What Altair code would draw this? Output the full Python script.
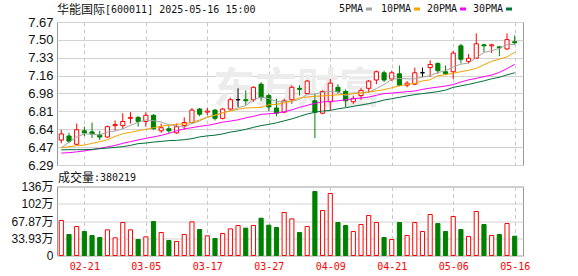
import json
import altair as alt
import pandas as pd

# ---------------- data ----------------
dates = ["02-18", "02-19", "02-20", "02-21", "02-24", "02-25", "02-26", "02-27", "02-28",
         "03-03", "03-04", "03-05", "03-06", "03-07", "03-10", "03-11", "03-12", "03-13",
         "03-14", "03-17", "03-18", "03-19", "03-20", "03-21", "03-24", "03-25", "03-26",
         "03-27", "03-28", "03-31", "04-01", "04-02", "04-03", "04-07", "04-08", "04-09",
         "04-10", "04-11", "04-14", "04-15", "04-16", "04-17", "04-18", "04-21", "04-22",
         "04-23", "04-24", "04-25", "04-28", "04-29", "04-30", "05-06", "05-07", "05-08",
         "05-09", "05-12", "05-13", "05-14", "05-15", "05-16"]

opens = [6.53, 6.57, 6.49, 6.62, 6.61, 6.58, 6.56, 6.67, 6.67, 6.74,
         6.75, 6.71, 6.77, 6.62, 6.64, 6.60, 6.67, 6.70, 6.83, 6.80,
         6.82, 6.74, 6.83, 6.92, 6.92, 6.92, 7.07, 6.96, 6.84, 6.80,
         6.92, 7.03, 6.98, 6.91, 6.79, 6.90, 7.04, 7.00, 6.90, 6.96,
         7.03, 7.11, 7.18, 7.12, 7.17, 7.06, 7.07, 7.18, 7.23, 7.27,
         7.19, 7.19, 7.44, 7.29, 7.32, 7.45, 7.44, 7.43, 7.41, 7.48]
highs = [6.63, 6.60, 6.69, 6.66, 6.70, 6.62, 6.67, 6.72, 6.79, 6.80,
         6.76, 6.80, 6.78, 6.69, 6.67, 6.69, 6.75, 6.84, 6.84, 6.84,
         6.83, 6.84, 6.94, 7.03, 7.01, 7.05, 7.09, 6.98, 6.93, 6.93,
         7.06, 7.06, 7.11, 6.98, 7.01, 7.12, 7.07, 7.02, 6.96, 7.03,
         7.11, 7.20, 7.20, 7.20, 7.25, 7.10, 7.23, 7.23, 7.30, 7.28,
         7.25, 7.39, 7.46, 7.36, 7.56, 7.46, 7.46, 7.44, 7.56, 7.54]
lows = [6.50, 6.50, 6.48, 6.57, 6.55, 6.53, 6.55, 6.62, 6.64, 6.69,
        6.66, 6.66, 6.63, 6.60, 6.60, 6.59, 6.63, 6.69, 6.76, 6.77,
        6.72, 6.73, 6.82, 6.85, 6.87, 6.90, 6.91, 6.81, 6.76, 6.79,
        6.88, 6.96, 6.98, 6.55, 6.78, 6.82, 6.98, 6.85, 6.88, 6.92,
        6.99, 7.07, 7.09, 7.10, 7.05, 7.04, 7.06, 7.14, 7.14, 7.17,
        7.16, 7.12, 7.27, 7.27, 7.32, 7.38, 7.37, 7.34, 7.40, 7.45]
closes = [6.59, 6.52, 6.63, 6.60, 6.59, 6.56, 6.66, 6.68, 6.71, 6.75,
          6.71, 6.77, 6.64, 6.65, 6.62, 6.66, 6.70, 6.82, 6.78, 6.81,
          6.74, 6.83, 6.92, 6.92, 6.91, 7.04, 6.94, 6.85, 6.79, 6.91,
          7.04, 7.02, 7.10, 6.80, 7.00, 7.08, 7.00, 6.91, 6.93, 7.01,
          7.10, 7.19, 7.11, 7.18, 7.06, 7.08, 7.18, 7.18, 7.26, 7.20,
          7.17, 7.37, 7.31, 7.32, 7.46, 7.44, 7.45, 7.42, 7.50, 7.47]
# volume in 万手
volumes = [68.9, 41.3, 57.0, 47.2, 39.3, 35.4, 50.5, 34.8, 64.9, 50.5,
           31.5, 36.7, 66.9, 45.2, 29.5, 27.5, 41.3, 66.2, 51.1, 38.7,
           33.4, 43.3, 52.4, 59.0, 53.8, 59.0, 73.4, 59.6, 55.1, 84.6,
           72.1, 45.2, 57.0, 125.9, 88.5, 122.0, 64.9, 59.0, 47.2, 61.0,
           78.7, 64.9, 35.4, 31.5, 64.9, 39.3, 64.9, 47.2, 80.6, 62.9,
           47.2, 76.7, 51.1, 37.4, 86.5, 61.0, 39.3, 41.3, 62.9, 38.02]

ma5 = [6.457, 6.511, 6.559, 6.592, 6.587, 6.580, 6.608, 6.617, 6.640, 6.672,
       6.703, 6.725, 6.717, 6.705, 6.678, 6.667, 6.654, 6.690, 6.715, 6.754,
       6.770, 6.794, 6.815, 6.843, 6.863, 6.923, 6.945, 6.931, 6.904, 6.905,
       6.905, 6.922, 6.972, 6.975, 6.992, 7.000, 6.996, 6.958, 6.984, 6.986,
       6.991, 7.028, 7.067, 7.116, 7.126, 7.122, 7.121, 7.137, 7.153, 7.182,
       7.201, 7.237, 7.263, 7.274, 7.324, 7.376, 7.393, 7.415, 7.451, 7.455]
ma10 = [6.457, 6.467, 6.476, 6.482, 6.499, 6.515, 6.534, 6.566, 6.592, 6.605,
        6.621, 6.634, 6.650, 6.666, 6.675, 6.682, 6.687, 6.701, 6.724, 6.750,
        6.771, 6.793, 6.812, 6.827, 6.841, 6.843, 6.846, 6.872, 6.875, 6.890,
        6.909, 6.938, 6.946, 6.953, 6.957, 6.962, 6.967, 6.972, 6.979, 6.986,
        6.994, 7.006, 7.017, 7.035, 7.054, 7.068, 7.078, 7.102, 7.112, 7.152,
        7.162, 7.175, 7.191, 7.204, 7.223, 7.257, 7.291, 7.310, 7.334, 7.378]
ma20 = [6.405, 6.409, 6.417, 6.426, 6.438, 6.450, 6.465, 6.479, 6.499, 6.515,
        6.532, 6.547, 6.561, 6.576, 6.595, 6.619, 6.639, 6.650, 6.663, 6.672,
        6.687, 6.704, 6.714, 6.726, 6.745, 6.759, 6.779, 6.784, 6.791, 6.803,
        6.822, 6.846, 6.866, 6.885, 6.899, 6.904, 6.909, 6.919, 6.930, 6.936,
        6.946, 6.962, 6.979, 6.984, 6.991, 6.998, 7.004, 7.020, 7.032, 7.042,
        7.052, 7.066, 7.091, 7.112, 7.126, 7.143, 7.158, 7.184, 7.220, 7.262]
ma30 = [6.436, 6.438, 6.438, 6.438, 6.441, 6.447, 6.453, 6.460, 6.467, 6.479,
        6.496, 6.502, 6.511, 6.518, 6.525, 6.528, 6.534, 6.544, 6.561, 6.571,
        6.578, 6.590, 6.608, 6.619, 6.634, 6.653, 6.670, 6.682, 6.697, 6.716,
        6.735, 6.759, 6.782, 6.798, 6.811, 6.817, 6.832, 6.843, 6.856, 6.869,
        6.882, 6.897, 6.917, 6.930, 6.943, 6.957, 6.969, 6.979, 6.988, 6.998,
        7.013, 7.039, 7.054, 7.068, 7.085, 7.102, 7.122, 7.136, 7.160, 7.180]

y_tick_labels = ["6.29", "6.47", "6.64", "6.81", "6.98", "7.16", "7.33", "7.50", "7.67"]
vol_tick_labels = ["0", "33.93万", "67.87万", "102万", "136万"]
x_tick_labels = ["02-21", "03-05", "03-17", "03-27", "04-09", "04-21", "05-06", "05-16"]

stock_name = "华能国际"
stock_info = "[600011] 2025-05-16 15:00"
vol_name = "成交量"
vol_info = ":380219"
legend_names = ["5PMA", "10PMA", "20PMA", "30PMA"]
ma_colors = ["#a3a3a3", "#f5a300", "#ff00ff", "#006f3a"]

# ---------------- table ----------------
n = len(dates)
df = pd.DataFrame({
    "i": list(range(n)), "date": dates,
    "open": opens, "high": highs, "low": lows, "close": closes,
    "volume": volumes, "ma5": ma5, "ma10": ma10, "ma20": ma20, "ma30": ma30,
})
df["body_lo"] = df[["open", "close"]].min(axis=1)
df["body_hi"] = df[["open", "close"]].max(axis=1)
df["dir"] = ["up" if c > o else ("down" if c < o else "flat") for o, c in zip(opens, closes)]
df["vdir"] = ["up" if c >= o else "down" for o, c in zip(opens, closes)]
df["x0"] = df["i"] - 0.27
df["x1"] = df["i"] + 0.27
df["vzero"] = 0.0

# ---------------- scales / axes ----------------
W = 466
H_MAIN = 143
H_VOL = 69
y_lo, y_hi = 6.29, 7.67
y_step = (y_hi - y_lo) / (len(y_tick_labels) - 1)
y_vals = [y_lo + k * y_step for k in range(len(y_tick_labels))]
v_max = 135.74
v_step = v_max / (len(vol_tick_labels) - 1)
v_vals = [k * v_step for k in range(len(vol_tick_labels))]
x_idx = [dates.index(d) for d in x_tick_labels]

xs = alt.Scale(domain=[-0.56, 60.08], nice=False, zero=False)
ys = alt.Scale(domain=[y_lo, y_hi], nice=False, zero=False)
vs = alt.Scale(domain=[0, v_max], nice=False, zero=False)
dirs = ["up", "down", "flat"]
stroke_scale = alt.Scale(domain=dirs, range=["#ff0000", "#008000", "#000000"])
fill_scale = alt.Scale(domain=dirs, range=["#ffffff", "#008000", "#000000"])

LABEL_FONT = "'Liberation Sans', 'Noto Sans CJK SC', sans-serif"
MONO = "'DejaVu Sans Mono', monospace"
CJK = "'Noto Sans CJK SC', sans-serif"

x_axis_main = alt.Axis(values=x_idx, labels=False, ticks=False, domain=False, title=None,
                       grid=True, gridDash=[4, 3], gridColor="#c8c8c8")
x_axis_vol = alt.Axis(values=x_idx, ticks=False, domain=False, title=None,
                      grid=True, gridDash=[4, 3], gridColor="#c8c8c8",
                      labelExpr=json.dumps(dates) + "[round(datum.value)]",
                      labelColor="#ff0000", labelFont=MONO, labelFontSize=10,
                      labelPadding=6, labelOverlap=False)
y_axis_main = alt.Axis(values=y_vals, title=None, ticks=False, domain=False,
                       grid=True, gridColor="#d2d2d2",
                       labelExpr=json.dumps(y_tick_labels) + "[round((datum.value - %r) / %r)]" % (y_lo, y_step),
                       labelFont=LABEL_FONT, labelFontSize=13, labelColor="#111111",
                       labelPadding=4, labelOverlap=False)
y_axis_vol = alt.Axis(values=v_vals, title=None, ticks=False, domain=False,
                      grid=True, gridColor="#d2d2d2",
                      labelExpr=json.dumps(vol_tick_labels) + "[round(datum.value / %r)]" % v_step,
                      labelFont=LABEL_FONT, labelFontSize=12, labelColor="#111111",
                      labelPadding=4, labelOverlap=False)

base = alt.Chart(df)

def one(text):
    return alt.Chart(pd.DataFrame({"t": [text]}))

# ---------------- main (price) panel ----------------
watermark = one("东方财富").mark_text(font=CJK, fontSize=42, fontWeight="bold", color="#ececec",
                                     align="center", baseline="middle").encode(
    x=alt.value(240), y=alt.value(68), text="t:N")

wick = base.mark_rule(strokeWidth=1).encode(
    x=alt.X("i:Q", scale=xs, axis=x_axis_main),
    y=alt.Y("low:Q", scale=ys, axis=y_axis_main),
    y2="high:Q",
    stroke=alt.Stroke("dir:N", scale=stroke_scale, legend=None),
)
body = base.mark_rect(strokeWidth=1).encode(
    x=alt.X("x0:Q", scale=xs, axis=x_axis_main),
    x2="x1:Q",
    y=alt.Y("body_lo:Q", scale=ys, axis=y_axis_main),
    y2="body_hi:Q",
    fill=alt.Fill("dir:N", scale=fill_scale, legend=None),
    stroke=alt.Stroke("dir:N", scale=stroke_scale, legend=None),
)
lines = [
    base.mark_line(strokeWidth=1, color=c).encode(
        x=alt.X("i:Q", scale=xs, axis=x_axis_main),
        y=alt.Y(f"{m}:Q", scale=ys, axis=y_axis_main),
    )
    for m, c in zip(["ma5", "ma10", "ma20", "ma30"], ma_colors)
]

title_a = one(stock_name).mark_text(font=CJK, fontSize=12, color="#111111", align="left",
                                    baseline="middle").encode(x=alt.value(0), y=alt.value(-12), text="t:N")
title_b = one(stock_info).mark_text(font=MONO, fontSize=10, color="#111111", align="left",
                                    baseline="middle").encode(x=alt.value(48), y=alt.value(-12), text="t:N")

legend_text_x = [282, 324, 370, 416]
legend_box_x = [309, 357, 403, 449]
legend_layers = []
for name, col, tx, bx in zip(legend_names, ma_colors, legend_text_x, legend_box_x):
    legend_layers.append(one(name).mark_text(font=MONO, fontSize=10, color="#111111", align="left",
                                             baseline="middle").encode(
        x=alt.value(tx), y=alt.value(-13), text="t:N"))
    legend_layers.append(one(name).mark_rect(color=col).encode(
        x=alt.value(bx), x2=alt.value(bx + 6), y=alt.value(-14.5), y2=alt.value(-11.5)))

main = alt.layer(watermark, wick, body, *lines, title_a, title_b, *legend_layers).properties(
    width=W, height=H_MAIN)

# ---------------- volume panel ----------------
vol_bars = base.mark_rect(strokeWidth=1).encode(
    x=alt.X("x0:Q", scale=xs, axis=x_axis_vol),
    x2="x1:Q",
    y=alt.Y("volume:Q", scale=vs, axis=y_axis_vol),
    y2="vzero:Q",
    fill=alt.Fill("vdir:N", scale=fill_scale, legend=None),
    stroke=alt.Stroke("vdir:N", scale=stroke_scale, legend=None),
)
vol_a = one(vol_name).mark_text(font=CJK, fontSize=12, color="#111111", align="left",
                                baseline="middle").encode(x=alt.value(1), y=alt.value(-9), text="t:N")
vol_b = one(vol_info).mark_text(font=MONO, fontSize=10, color="#111111", align="left",
                                baseline="middle").encode(x=alt.value(37), y=alt.value(-9), text="t:N")

vol = alt.layer(vol_bars, vol_a, vol_b).properties(width=W, height=H_VOL)

chart = alt.vconcat(main, vol, spacing=21.5, bounds="flush").properties(
    padding={"left": 10, "top": 3, "right": 2, "bottom": 2},
    background="#ffffff",
).configure_view(stroke="#999999", strokeWidth=1)

chart.save("out.html", embed_options={"renderer": "svg", "actions": False})
